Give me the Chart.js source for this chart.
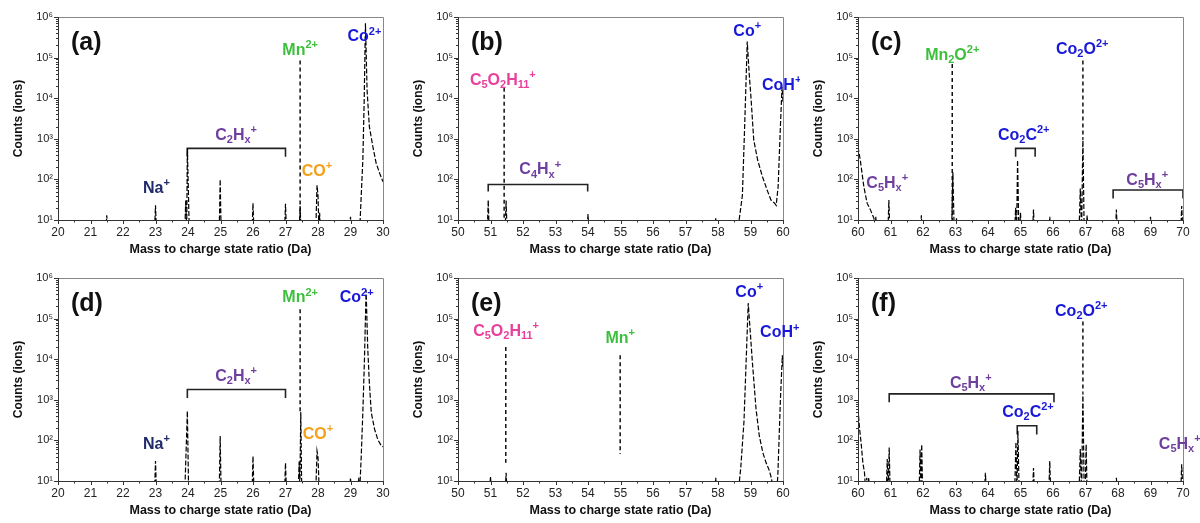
<!DOCTYPE html>
<html>
<head>
<meta charset="utf-8">
<script src="https://cdn.jsdelivr.net/npm/chart.js@4/dist/chart.umd.min.js"></script>
<style>
  body { margin: 0; background: #fff; }
  #wrap { position: relative; width: 1200px; height: 523px; overflow: hidden; }
  canvas { position: absolute; }
</style>
</head>
<body>
<div id="wrap">
  <canvas id="pa" width="400" height="262" style="left:0;top:0"></canvas>
  <canvas id="pb" width="400" height="262" style="left:400px;top:0"></canvas>
  <canvas id="pc" width="400" height="262" style="left:800px;top:0"></canvas>
  <canvas id="pd" width="400" height="262" style="left:0;top:261px"></canvas>
  <canvas id="pe" width="400" height="262" style="left:400px;top:261px"></canvas>
  <canvas id="pf" width="400" height="262" style="left:800px;top:261px"></canvas>
</div>
<script>
// Spectra: mass-to-charge (Da) and counts. Values of 5 sit below the axis (background).
const massA = [20, 21.47, 21.5, 21.53, 22.97, 23.0, 23.03, 23.9, 23.93, 23.96, 23.98, 24.01, 24.04, 24.96, 24.99, 25.02, 25.97, 26.0, 26.03, 26.97, 27.0, 27.03, 27.42, 27.45, 27.48, 27.93, 27.97, 28.0, 28.03, 28.05, 28.08, 28.97, 29.0, 29.03, 29.28, 29.34, 29.38, 29.42, 29.46, 29.51, 29.58, 29.69, 29.79, 29.9, 30];
const countsA = [5, 5, 13, 5, 5, 23, 5, 5, 30, 5, 580, 60, 5, 5, 100, 5, 5, 26, 5, 5, 25, 5, 5, 22, 5, 5, 72, 40, 5, 15, 5, 5, 12, 5, 5, 60, 300, 8000, 700000, 16000, 2000, 630, 250, 140, 87];

const massB = [50, 50.9, 50.93, 50.96, 51.45, 51.48, 51.51, 53.97, 54.0, 54.03, 57.9, 57.93, 57.96, 58.6, 58.75, 58.82, 58.9, 58.96, 59.02, 59.1, 59.22, 59.37, 59.53, 59.63, 59.74, 59.79, 59.85, 59.92, 59.97, 60];
const countsB = [5, 5, 31, 5, 5, 30, 5, 5, 14, 5, 5, 11, 5, 5, 40, 2000, 250000, 40000, 9000, 930, 300, 115, 50, 31, 26, 23, 66, 2000, 19000, 8000];

const massC = [60, 60.07, 60.18, 60.28, 60.38, 60.49, 60.52, 60.55, 60.58, 60.92, 60.95, 60.98, 61.92, 61.95, 61.98, 62.88, 62.92, 62.96, 63.0, 63.03, 63.06, 64.82, 64.85, 64.88, 64.91, 64.95, 64.97, 65.0, 65.03, 65.37, 65.4, 65.43, 65.87, 65.9, 65.93, 66.8, 66.84, 66.88, 66.92, 66.96, 67.02, 67.05, 67.08, 67.92, 67.95, 67.98, 68.97, 69.0, 69.03, 69.93, 69.96, 70];
const countsC = [630, 300, 66, 26, 18, 11, 5, 12, 5, 5, 31, 5, 5, 13, 5, 5, 150, 5, 5, 11, 5, 5, 20, 5, 300, 5, 5, 15, 5, 5, 18, 5, 5, 12, 5, 5, 60, 5, 1100, 5, 5, 13, 5, 5, 18, 5, 5, 12, 5, 5, 22, 5];

const massD = [20, 22.97, 23.0, 23.03, 23.9, 23.94, 23.98, 24.02, 24.96, 24.99, 25.02, 25.97, 26.0, 26.03, 26.97, 27.0, 27.03, 27.39, 27.42, 27.44, 27.47, 27.5, 27.93, 27.97, 28.0, 28.04, 28.97, 29.0, 29.03, 29.22, 29.25, 29.28, 29.33, 29.38, 29.43, 29.48, 29.53, 29.58, 29.64, 29.74, 29.84, 29.95, 30];
const countsD = [5, 5, 31, 5, 5, 50, 530, 5, 5, 128, 5, 5, 41, 5, 5, 28, 5, 5, 30, 5, 500, 5, 5, 55, 40, 5, 5, 12, 5, 5, 12, 5, 40, 500, 10000, 500000, 19000, 2600, 480, 190, 105, 73, 70];

const massE = [50, 50.97, 51.0, 51.03, 51.45, 51.48, 51.51, 57.9, 57.93, 57.96, 58.62, 58.7, 58.8, 58.93, 59.06, 59.17, 59.27, 59.38, 59.48, 59.58, 59.64, 59.72, 59.8, 59.84, 59.92, 59.98, 60];
const countsE = [5, 5, 13, 5, 5, 16, 5, 5, 12, 5, 5, 21, 300, 240000, 8000, 600, 130, 50, 28, 18, 12, 5, 5, 13, 1000, 12500, 6000];

const massF = [60, 60.05, 60.1, 60.15, 60.2, 60.24, 60.27, 60.3, 60.33, 60.36, 60.87, 60.9, 60.93, 60.96, 60.99, 61.88, 61.91, 61.94, 61.96, 61.99, 63.89, 63.92, 63.95, 64.82, 64.86, 64.89, 64.92, 64.96, 65.37, 65.4, 65.43, 65.87, 65.9, 65.93, 66.8, 66.84, 66.88, 66.92, 66.96, 66.99, 67.02, 67.05, 67.92, 67.95, 67.98, 69.93, 69.96, 70];
const countsF = [600, 190, 80, 28, 16, 5, 12, 5, 12, 5, 5, 35, 5, 67, 5, 5, 60, 5, 80, 5, 5, 16, 5, 5, 90, 5, 170, 5, 5, 21, 5, 5, 31, 5, 5, 61, 5, 1550, 5, 5, 80, 5, 5, 12, 5, 5, 26, 5];

// Dashed marker lines: [mass, top count, bottom count]
const guidesA = [[27.45, 85000, 10]];
const guidesB = [[51.42, 18000, 10]];
const guidesC = [[62.9, 70000, 10], [66.92, 85000, 1100]];
const guidesD = [[27.45, 170000, 500]];
const guidesE = [[51.47, 20000, 28], [54.99, 12500, 46]];
const guidesF = [[66.92, 85000, 1550]];

// Range brackets: [from, to, bar count, leg end count]
const bracketsA = [[23.98, 27.0, 580, 360]];
const bracketsB = [[50.93, 53.99, 75, 50]];
const bracketsC = [[64.85, 65.45, 580, 360], [67.85, 70, 55, 34]];
const bracketsD = [[23.98, 27.0, 1800, 1100]];
const bracketsE = [];
const bracketsF = [[60.96, 66.03, 1400, 870], [64.9, 65.5, 230, 140]];

// Ion labels: [markup, mass, count]
const ionsA = [['Na^{+}', 23.03, 60], ['C_{2}H_{x}^{+}', 25.48, 1200], ['Mn^{2+}', 27.45, 150000], ['CO^{+}', 27.97, 155], ['Co^{2+}', 29.43, 320000]];
const ionsB = [['C_{5}O_{2}H_{11}^{+}', 51.38, 27000], ['C_{4}H_{x}^{+}', 52.53, 170], ['Co^{+}', 58.9, 430000], ['CoH^{+}', 59.96, 21000]];
const ionsC = [['C_{5}H_{x}^{+}', 60.9, 80], ['Mn_{2}O^{2+}', 62.9, 115000], ['Co_{2}C^{2+}', 65.1, 1230], ['Co_{2}O^{2+}', 66.9, 160000], ['C_{5}H_{x}^{+}', 68.9, 96]];
const ionsD = [['Na^{+}', 23.03, 80], ['C_{2}H_{x}^{+}', 25.48, 3800], ['Mn^{2+}', 27.45, 320000], ['CO^{+}', 28.0, 140], ['Co^{2+}', 29.19, 320000]];
const ionsE = [['C_{5}O_{2}H_{11}^{+}', 51.48, 48000], ['Mn^{+}', 54.99, 32000], ['Co^{+}', 58.96, 430000], ['CoH^{+}', 59.9, 44000]];
const ionsF = [['C_{5}H_{x}^{+}', 63.47, 2500], ['Co_{2}C^{2+}', 65.23, 490], ['Co_{2}O^{2+}', 66.87, 150000], ['C_{5}H_{x}^{+}', 69.9, 81]];

const FONT = '"Liberation Sans", Arial, Helvetica, sans-serif';
const SUP = { 1: '\u00b9', 2: '\u00b2', 3: '\u00b3', 4: '\u2074', 5: '\u2075', 6: '\u2076' };

const ionColor = {
  'Na^{+}': '#1f2a6b',
  'C_{2}H_{x}^{+}': '#6f3f9e',
  'C_{4}H_{x}^{+}': '#6f3f9e',
  'C_{5}H_{x}^{+}': '#6f3f9e',
  'Mn^{2+}': '#3dbf3d',
  'Mn^{+}': '#3dbf3d',
  'Mn_{2}O^{2+}': '#3dbf3d',
  'CO^{+}': '#f5a01a',
  'Co^{2+}': '#1818d8',
  'Co^{+}': '#1818d8',
  'CoH^{+}': '#1818d8',
  'Co_{2}C^{2+}': '#1818d8',
  'Co_{2}O^{2+}': '#1818d8',
  'C_{5}O_{2}H_{11}^{+}': '#e8409c'
};

// draws "X_{sub}^{sup}" style text centred on (x, y)
function drawRich(ctx, markup, x, y, color) {
  const parts = [];
  const re = /([_^])\{([^}]*)\}|([^_^]+)/g;
  let m;
  while ((m = re.exec(markup))) {
    if (m[3]) parts.push({ t: m[3], k: '' });
    else parts.push({ t: m[2], k: m[1] });
  }
  const fontFor = k => 'bold ' + (k ? 11 : 16) + 'px ' + FONT;
  let w = 0;
  parts.forEach(p => { ctx.font = fontFor(p.k); p.w = ctx.measureText(p.t).width; w += p.w; });
  let cx = x - w / 2;
  ctx.fillStyle = color;
  ctx.textAlign = 'left';
  ctx.textBaseline = 'middle';
  parts.forEach(p => {
    ctx.font = fontFor(p.k);
    const dy = p.k === '^' ? -5.5 : p.k === '_' ? 4.5 : 0;
    ctx.fillText(p.t, cx, y + dy);
    cx += p.w;
  });
}

// frame, tick marks, panel letter and ion labels
const panelDecor = {
  id: 'panelDecor',
  afterDraw(chart) {
    const { ctx, chartArea: a, scales: { x, y } } = chart;
    const opts = chart.options.plugins.panelDecor;
    ctx.save();
    ctx.lineWidth = 1;
    ctx.strokeStyle = '#888';
    ctx.beginPath();
    ctx.moveTo(a.left, a.top + 0.5); ctx.lineTo(a.right + 0.5, a.top + 0.5); ctx.lineTo(a.right + 0.5, a.bottom);
    ctx.stroke();
    ctx.strokeStyle = '#333';
    ctx.beginPath();
    ctx.moveTo(a.left + 0.5, a.top); ctx.lineTo(a.left + 0.5, a.bottom + 0.5); ctx.lineTo(a.right + 0.5, a.bottom + 0.5);
    // x ticks every 0.5 Da
    for (let v = x.min; v <= x.max + 1e-9; v += 0.5) {
      const px = Math.round(x.getPixelForValue(v)) + 0.5;
      const len = Math.abs(v - Math.round(v)) < 1e-9 ? 4 : 2.5;
      ctx.moveTo(px, a.bottom); ctx.lineTo(px, a.bottom + len);
    }
    // y ticks per decade, minor at 2..9
    for (let e = 1; e <= 6; e++) {
      for (let s = 1; s <= 9; s++) {
        const v = s * Math.pow(10, e);
        if (v > y.max) break;
        const py = Math.round(y.getPixelForValue(v)) + 0.5;
        const len = s === 1 ? 4 : 2;
        ctx.moveTo(a.left, py); ctx.lineTo(a.left - len, py);
      }
    }
    ctx.stroke();

    ctx.fillStyle = '#111';
    ctx.font = 'bold 25px ' + FONT;
    ctx.textAlign = 'left';
    ctx.textBaseline = 'middle';
    ctx.fillText(opts.letter, a.left + 13, a.top + 26);

    opts.ions.forEach(([txt, m, c]) => {
      drawRich(ctx, txt, x.getPixelForValue(m), y.getPixelForValue(c), ionColor[txt]);
    });
    ctx.restore();
  }
};

function buildPanel(id, letter, xMin, xMax, mass, counts, guides, brackets, ions) {
  const datasets = [{
    data: mass.map((m, i) => ({ x: m, y: counts[i] })),
    borderColor: '#000',
    borderWidth: 1.2,
    borderDash: [5, 2],
    pointRadius: 0
  }];
  guides.forEach(([m, top, bottom]) => datasets.push({
    data: [{ x: m, y: top }, { x: m, y: bottom }],
    borderColor: '#111',
    borderWidth: 1.5,
    borderDash: [4, 3],
    pointRadius: 0
  }));
  brackets.forEach(([x1, x2, bar, leg]) => datasets.push({
    data: [{ x: x1, y: leg }, { x: x1, y: bar }, { x: x2, y: bar }, { x: x2, y: leg }],
    borderColor: '#222',
    borderWidth: 1.6,
    pointRadius: 0
  }));

  new Chart(document.getElementById(id), {
    type: 'line',
    data: { datasets },
    options: {
      responsive: false,
      animation: false,
      events: [],
      layout: { padding: { top: 17, right: 17, left: 0, bottom: 0 } },
      plugins: {
        legend: { display: false },
        tooltip: { enabled: false },
        panelDecor: { letter, ions }
      },
      scales: {
        x: {
          type: 'linear',
          min: xMin,
          max: xMax,
          afterFit: s => { s.height = 42; },
          grid: { display: false, drawTicks: false },
          border: { display: false },
          ticks: {
            stepSize: 1,
            autoSkip: false,
            maxRotation: 0,
            padding: 5,
            color: '#222',
            font: { size: 12, family: FONT }
          },
          title: {
            display: true,
            text: 'Mass to charge state ratio (Da)',
            color: '#111',
            font: { size: 12.5, weight: 'bold', family: FONT },
            padding: { top: 0, bottom: 5 }
          }
        },
        y: {
          type: 'logarithmic',
          min: 10,
          max: 1e6,
          afterFit: s => { s.width = 58; },
          grid: { display: false, drawTicks: false },
          border: { display: false },
          ticks: {
            autoSkip: false,
            padding: 5,
            color: '#222',
            font: { size: 11, family: FONT },
            callback: v => {
              const l = Math.log10(v);
              const e = Math.round(l);
              return Math.abs(l - e) < 1e-6 ? '10' + SUP[e] : '';
            }
          },
          title: {
            display: true,
            text: 'Counts (ions)',
            color: '#111',
            font: { size: 12, weight: 'bold', family: FONT },
            padding: { top: 11, bottom: 0 }
          }
        }
      }
    },
    plugins: [panelDecor]
  });
}

buildPanel('pa', '(a)', 20, 30, massA, countsA, guidesA, bracketsA, ionsA);
buildPanel('pb', '(b)', 50, 60, massB, countsB, guidesB, bracketsB, ionsB);
buildPanel('pc', '(c)', 60, 70, massC, countsC, guidesC, bracketsC, ionsC);
buildPanel('pd', '(d)', 20, 30, massD, countsD, guidesD, bracketsD, ionsD);
buildPanel('pe', '(e)', 50, 60, massE, countsE, guidesE, bracketsE, ionsE);
buildPanel('pf', '(f)', 60, 70, massF, countsF, guidesF, bracketsF, ionsF);
</script>
</body>
</html>
